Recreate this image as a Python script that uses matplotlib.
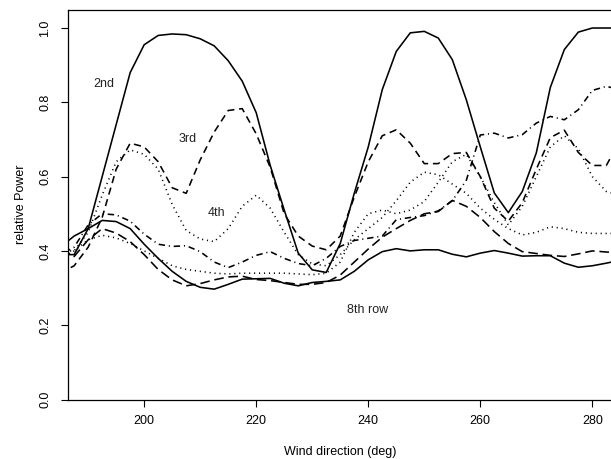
import numpy as np, matplotlib
matplotlib.use('Agg')
import matplotlib.pyplot as plt

plt.rcParams['font.family'] = ['Liberation Sans', 'DejaVu Sans']

# wind direction (deg), 2.5 deg steps
wd = [185, 187.5, 190, 192.5, 195, 197.5, 200, 202.5, 205, 207.5, 210, 212.5,
      215, 217.5, 220, 222.5, 225, 227.5, 230, 232.5, 235, 237.5, 240, 242.5,
      245, 247.5, 250, 252.5, 255, 257.5, 260, 262.5, 265, 267.5, 270, 272.5,
      275, 277.5, 280, 282.5, 285]

# relative power per row
row2 = [0.39, 0.39, 0.46, 0.60, 0.74, 0.88, 0.955, 0.98, 0.984, 0.982, 0.971, 0.952,
        0.912, 0.857, 0.772, 0.63, 0.51, 0.394, 0.349, 0.342, 0.42, 0.555, 0.68, 0.834,
        0.937, 0.987, 0.991, 0.973, 0.915, 0.807, 0.68, 0.556, 0.503, 0.56, 0.664, 0.84,
        0.942, 0.989, 1.0, 1.0, 1.0]
row3 = [0.34, 0.36, 0.41, 0.49, 0.62, 0.69, 0.68, 0.64, 0.57, 0.555, 0.645, 0.72,
        0.778, 0.783, 0.715, 0.625, 0.50, 0.44, 0.413, 0.403, 0.44, 0.545, 0.64, 0.71,
        0.726, 0.69, 0.635, 0.635, 0.662, 0.665, 0.60, 0.515, 0.48, 0.53, 0.62, 0.705,
        0.725, 0.665, 0.63, 0.63, 0.70]
row4 = [0.40, 0.40, 0.45, 0.55, 0.64, 0.672, 0.66, 0.62, 0.525, 0.455, 0.432, 0.425,
        0.46, 0.52, 0.55, 0.515, 0.45, 0.39, 0.365, 0.36, 0.39, 0.43, 0.46, 0.49,
        0.535, 0.585, 0.612, 0.605, 0.58, 0.555, 0.515, 0.485, 0.46, 0.443, 0.45, 0.465,
        0.46, 0.45, 0.447, 0.447, 0.447]
row5 = [0.39, 0.41, 0.47, 0.50, 0.497, 0.48, 0.445, 0.418, 0.412, 0.414, 0.398, 0.37,
        0.355, 0.37, 0.388, 0.398, 0.38, 0.366, 0.36, 0.38, 0.412, 0.428, 0.434, 0.44,
        0.484, 0.49, 0.495, 0.508, 0.535, 0.59, 0.712, 0.717, 0.704, 0.713, 0.744, 0.762,
        0.753, 0.78, 0.832, 0.843, 0.834]
row6 = [0.37, 0.385, 0.43, 0.46, 0.448, 0.425, 0.39, 0.35, 0.322, 0.306, 0.312, 0.322,
        0.33, 0.332, 0.323, 0.32, 0.315, 0.31, 0.31, 0.315, 0.335, 0.37, 0.405, 0.437,
        0.46, 0.482, 0.50, 0.506, 0.536, 0.52, 0.49, 0.452, 0.42, 0.398, 0.393, 0.388,
        0.385, 0.392, 0.40, 0.397, 0.395]
row7 = [0.38, 0.40, 0.43, 0.442, 0.435, 0.42, 0.40, 0.38, 0.36, 0.35, 0.345, 0.34,
        0.338, 0.34, 0.34, 0.34, 0.34, 0.338, 0.336, 0.34, 0.37, 0.45, 0.50, 0.51,
        0.50, 0.51, 0.533, 0.585, 0.64, 0.66, 0.60, 0.53, 0.47, 0.52, 0.60, 0.68,
        0.71, 0.675, 0.60, 0.56, 0.55]
row8 = [0.41, 0.44, 0.46, 0.482, 0.479, 0.46, 0.418, 0.38, 0.345, 0.318, 0.302, 0.297,
        0.31, 0.324, 0.325, 0.326, 0.313, 0.306, 0.315, 0.318, 0.322, 0.345, 0.376, 0.398,
        0.406, 0.40, 0.403, 0.403, 0.391, 0.384, 0.394, 0.401, 0.394, 0.386, 0.387, 0.387,
        0.367, 0.356, 0.36, 0.367, 0.375]

rows = [row2, row3, row4, row5, row6, row7, row8]
styles = [(0, ()), (0, (4.5, 3)), (0, (0.7, 2.4)), (0, (0.7, 2.4, 4, 2.4)),
          (0, (6, 3)), (0, (0.7, 2.4)), (0, ())]

labels = ['2nd', '3rd', '4th', '8th row']
label_x = [192.8, 207.8, 212.9, 239.9]
label_y = [0.848, 0.700, 0.503, 0.241]

fig = plt.figure(figsize=(6.11, 4.59), dpi=100)
ax = fig.add_axes([68 / 611, 1 - 399.5 / 459, 544.5 / 611, 389.5 / 459])

for r, ls in zip(rows, styles):
    ax.plot(wd, r, color='black', lw=1.15, linestyle=ls)

for t, tx, ty in zip(labels, label_x, label_y):
    ax.text(tx, ty, t, fontsize=9, ha='center', va='center', color='#222222')

ax.set_xlim(186.4, 283.6)
ax.set_ylim(0, 1.0485)
ax.set_xticks([200, 220, 240, 260, 280])
ax.set_yticks([0.0, 0.2, 0.4, 0.6, 0.8, 1.0])
ax.set_yticklabels(['0.0', '0.2', '0.4', '0.6', '0.8', '1.0'], rotation=90, va='center')
ax.tick_params(direction='out', length=5, width=0.8, labelsize=9, colors='black')
ax.tick_params(axis='x', pad=6)
ax.tick_params(axis='y', pad=7)
for s in ax.spines.values():
    s.set_linewidth(0.9)
ax.spines['right'].set_visible(False)

fig.text(340 / 611, 1 - 452 / 459, 'Wind direction (deg)', ha='center', va='center', fontsize=9)
fig.text(21 / 611, 1 - 204.75 / 459, 'relative Power', ha='center', va='center',
         rotation=90, fontsize=9)

plt.savefig('out.png', dpi=100)
